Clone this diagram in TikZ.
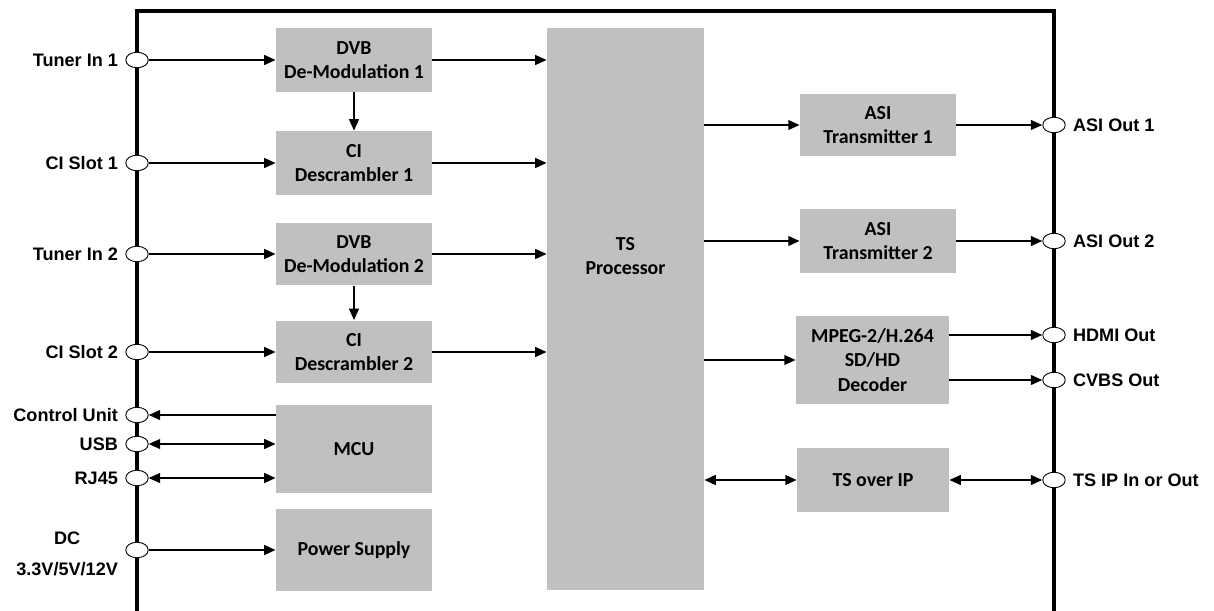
\documentclass[tikz,border=0pt]{standalone}
\usepackage{fontspec}
\setmainfont{Liberation Sans}
\newfontfamily\blockfont{Carlito}
\usetikzlibrary{arrows.meta,shapes.geometric}
\definecolor{blockgray}{RGB}{192,192,192}

\begin{document}
\begin{tikzpicture}[x=0.02cm,y=-0.02cm,
  block/.style={fill=blockgray, inner sep=0pt, align=center,
    font=\blockfont\bfseries\fontsize{11.3}{14}\selectfont},
  port/.style={ellipse, draw, fill=white, line width=0.5pt,
    minimum width=0.45cm, minimum height=0.31cm, inner sep=0pt},
  lbl/.style={font=\bfseries\fontsize{10.3}{12}\selectfont, inner sep=4pt},
  sig/.style={line width=1.1pt, -{Triangle[length=6.5pt,width=5.5pt]}},
  bisig/.style={line width=1.1pt,
    {Triangle[length=6.5pt,width=5.5pt]}-{Triangle[length=6.5pt,width=5.5pt]}}]
  \useasboundingbox (0,0) rectangle (1214,611);
  \draw[line width=2.2pt] (137,611) -- (137,11) -- (1054,11) -- (1054,611);

  % blocks
  \node[block, minimum width=3.12cm, minimum height=1.28cm] (dvbA) at (354,60) {DVB\\De-Modulation 1};
  \node[block, minimum width=3.12cm, minimum height=1.28cm] (ciA) at (354,163) {CI\\Descrambler 1};
  \node[block, minimum width=3.12cm, minimum height=1.26cm] (dvbB) at (354,254) {DVB\\De-Modulation 2};
  \node[block, minimum width=3.12cm, minimum height=1.26cm] (ciB) at (354,352) {CI\\Descrambler 2};
  \node[block, minimum width=3.12cm, minimum height=1.76cm] (mcu) at (354,449) {MCU};
  \node[block, minimum width=3.12cm, minimum height=1.66cm] (power) at (354,550) {Power Supply};
  \node[block, minimum width=3.14cm, minimum height=11.24cm] (tsp) at (625.5,309) {};
  \node[block, fill=none] (tsLabel) at (625.5,256) {TS\\Processor};
  \node[block, minimum width=3.12cm, minimum height=1.26cm] (asiA) at (878,125) {ASI\\Transmitter 1};
  \node[block, minimum width=3.12cm, minimum height=1.28cm] (asiB) at (878,241) {ASI\\Transmitter 2};
  \node[block, minimum width=3.06cm, minimum height=1.78cm] (dec) at (872.5,360) {MPEG-2/H.264\\SD/HD\\Decoder};
  \node[block, minimum width=3.04cm, minimum height=1.28cm] (tsip) at (873,480) {TS over IP};

  % ports
  \node[port] (tunerA) at (137,60) {};
  \node[port] (slotA) at (137,163) {};
  \node[port] (tunerB) at (137,254) {};
  \node[port] (slotB) at (137,352) {};
  \node[port] (ctrl) at (137,415) {};
  \node[port] (usb) at (137,444) {};
  \node[port] (rj) at (137,478) {};
  \node[port] (dc) at (137,550) {};
  \node[port] (outA) at (1054,125) {};
  \node[port] (outB) at (1054,241) {};
  \node[port] (hdmi) at (1054,335) {};
  \node[port] (cvbs) at (1054,380) {};
  \node[port] (ipio) at (1054,480) {};

  \node[lbl, anchor=east] (tunerAlbl) at (tunerA.west) {Tuner In 1};
  \node[lbl, anchor=east] (slotAlbl) at (slotA.west) {CI Slot 1};
  \node[lbl, anchor=east] (tunerBlbl) at (tunerB.west) {Tuner In 2};
  \node[lbl, anchor=east] (slotBlbl) at (slotB.west) {CI Slot 2};
  \node[lbl, anchor=east] (ctrllbl) at (ctrl.west) {Control Unit};
  \node[lbl, anchor=east] (usblbl) at (usb.west) {USB};
  \node[lbl, anchor=east] (rjlbl) at (rj.west) {RJ45};
  \node[lbl, anchor=east, align=center, font=\bfseries\fontsize{10.3}{17.5}\selectfont] (dclbl) at ([yshift=-2pt]dc.west) {DC\\3.3V/5V/12V};
  \node[lbl, anchor=west] (outAlbl) at (outA.east) {ASI Out 1};
  \node[lbl, anchor=west] (outBlbl) at (outB.east) {ASI Out 2};
  \node[lbl, anchor=west] (hdmilbl) at (hdmi.east) {HDMI Out};
  \node[lbl, anchor=west] (cvbslbl) at (cvbs.east) {CVBS Out};
  \node[lbl, anchor=west] (ipiolbl) at (ipio.east) {TS IP In or Out};

  % connectors
  \draw[sig] (tunerA) -- (dvbA);
  \draw[sig] (dvbA.east) -- (dvbA.east -| tsp.west);
  \draw[sig] (dvbA) -- (ciA);
  \draw[sig] (slotA) -- (ciA);
  \draw[sig] (ciA.east) -- (ciA.east -| tsp.west);
  \draw[sig] (tunerB) -- (dvbB);
  \draw[sig] (dvbB.east) -- (dvbB.east -| tsp.west);
  \draw[sig] (dvbB) -- (ciB);
  \draw[sig] (slotB) -- (ciB);
  \draw[sig] (ciB.east) -- (ciB.east -| tsp.west);
  \draw[sig] (mcu.west |- ctrl) -- (ctrl);
  \draw[bisig] (usb) -- (mcu.west |- usb);
  \draw[bisig] (rj) -- (mcu.west |- rj);
  \draw[sig] (dc) -- (power);
  \draw[sig] (tsp.east |- asiA) -- (asiA);
  \draw[sig] (asiA) -- (outA);
  \draw[sig] (tsp.east |- asiB) -- (asiB);
  \draw[sig] (asiB) -- (outB);
  \draw[sig] (tsp.east |- dec) -- (dec);
  \draw[sig] (dec.east |- hdmi) -- (hdmi);
  \draw[sig] (dec.east |- cvbs) -- (cvbs);
  \draw[bisig] (tsp.east |- tsip) -- (tsip);
  \draw[bisig] (tsip) -- (ipio);
\end{tikzpicture}
\end{document}
